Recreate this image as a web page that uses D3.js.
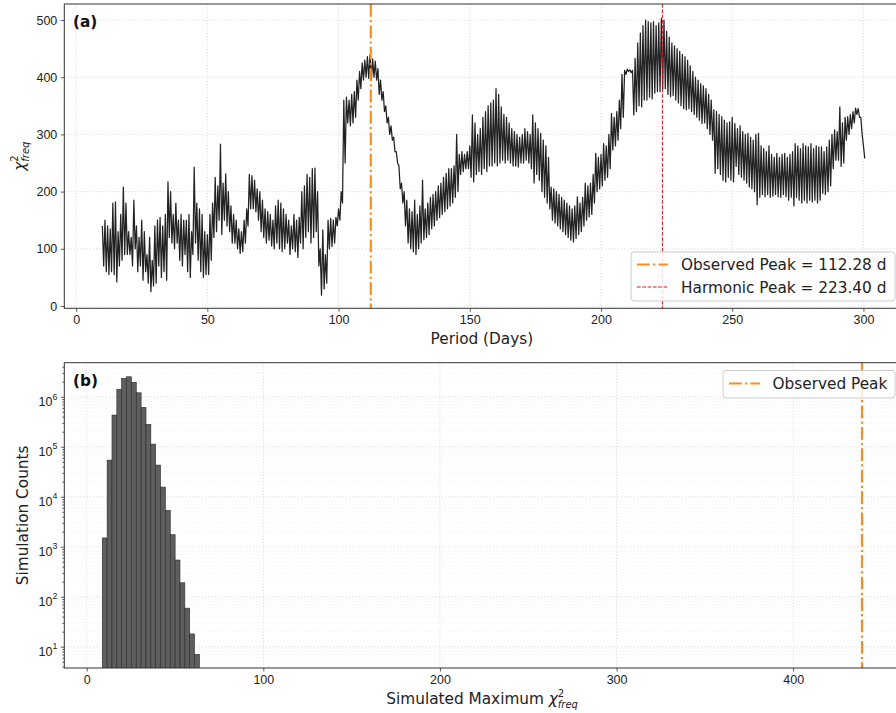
<!DOCTYPE html>
<html>
<head>
<meta charset="utf-8">
<title>Chi-square periodogram</title>
<script src="https://cdn.jsdelivr.net/npm/d3@7"></script>
<style>
  body { margin: 0; background: #fff; }
  svg { display: block; font-family: "DejaVu Sans", sans-serif; }
  .tick text { font-size: 12.5px; fill: #222; }
  .tick line { stroke: #333; stroke-width: 0.8; }
  .axis-label { font-size: 15.3px; fill: #222; }
  .grid line { stroke: #d4d4d4; stroke-width: 0.8; stroke-dasharray: 1.2,2; }
  .grid-minor line { stroke: #e4e4e4; stroke-width: 0.6; stroke-dasharray: 1,2; }
</style>
</head>
<body>
<div id="chart"></div>
<script>
// ---- panel (a): chi2 periodogram, upper / lower envelope read per day (10..300 d)
var chiHi = [
  140,150,140,135,180,182,130,160,208,180,
  130,120,185,140,120,150,130,90,120,80,
  140,150,155,140,160,217,200,160,180,150,
  160,150,150,160,130,243,180,170,160,130,
  125,160,180,225,210,283,215,231,200,175,
  160,150,135,130,150,170,230,228,220,205,
  200,185,170,165,160,150,175,185,180,170,
  160,150,140,160,150,155,200,210,230,225,
  240,241,200,100,133,90,150,153,150,155,
  170,200,360,365,360,370,375,395,410,425,
  430,436,439,432,428,415,395,375,350,330,
  315,295,270,245,215,200,185,170,165,185,
  160,175,220,170,180,190,195,200,210,215,
  225,232,240,240,245,300,265,270,265,270,
  280,334,320,300,310,330,340,350,355,360,
  380,370,348,335,330,320,310,305,300,295,
  300,310,305,300,334,320,310,302,290,280,
  260,208,205,200,195,190,185,180,175,170,
  175,191,180,190,215,210,215,230,267,260,
  265,284,280,300,337,330,340,360,405,412,
  414,413,412,433,460,477,490,500,497,495,
  497,490,495,503,500,480,470,460,455,450,
  445,440,436,430,420,410,400,395,389,385,
  380,370,360,343,340,335,331,325,320,322,
  330,319,310,315,305,300,302,295,290,300,
  302,280,275,270,280,265,260,267,260,265,
  267,260,265,270,284,280,275,284,280,278,
  284,275,280,278,278,270,278,290,300,308,
  305,348,320,330,331,335,340,346,345,330,280
];
var chiLo = [
  70,60,55,60,55,42,70,80,90,90,
  90,70,100,60,70,45,60,40,25,35,
  40,70,50,60,45,120,110,100,110,80,
  70,90,60,50,90,110,80,60,50,55,
  55,80,120,130,150,125,150,140,130,110,
  110,100,92,95,110,140,170,170,165,150,
  130,120,110,115,105,100,110,100,95,100,
  110,90,100,95,85,110,100,120,130,110,
  120,130,70,19,30,40,100,104,110,140,
  150,180,250,320,315,320,330,360,380,395,
  400,398,395,400,395,370,360,340,320,300,
  290,270,250,205,180,140,110,100,95,90,
  100,110,116,120,125,135,140,150,155,160,
  165,170,175,180,190,200,230,235,240,240,
  225,217,230,235,230,240,235,245,245,250,
  245,250,255,250,255,250,245,245,243,250,
  250,255,250,240,215,230,220,200,190,180,
  170,150,145,140,135,130,125,120,115,112,
  118,125,130,140,150,156,160,180,200,205,
  210,220,225,240,273,280,290,310,330,405,
  410,408,334,340,350,348,360,360,365,362,
  372,375,375,378,380,370,366,368,360,355,
  350,345,343,345,340,335,330,325,319,320,
  310,300,290,232,240,230,220,217,225,220,
  217,244,230,225,220,215,208,205,200,177,
  190,195,191,195,190,192,195,191,190,195,
  191,185,190,175,190,185,180,185,180,185,
  182,185,180,185,197,195,200,210,240,255,
  255,244,250,290,300,310,320,335,330,300,258
];
var periods = d3.range(10, 301);           // one entry per day
var observedPeak = 112.28;
var harmonicPeak = 223.40;
var periodTicks = [0, 50, 100, 150, 200, 250, 300];
var chiTicks = [0, 100, 200, 300, 400, 500];

// ---- panel (b): histogram of simulated maxima
var binEdges = [8.8, 11.55, 14.3, 17.05, 19.8, 22.55, 25.3, 28.05, 30.8, 33.55, 36.3,
                39.05, 41.8, 44.55, 47.3, 50.05, 52.8, 55.55, 58.3, 61.05, 63.8];
var binCounts = [1500, 54000, 430000, 1410000, 2330000, 2510000, 1940000, 1200000, 610000, 280000,
                 113000, 43000, 15600, 5350, 1740, 542, 190, 59, 18, 7];
var observedMaxChi = 439;
var simTicks = [0, 100, 200, 300, 400];
var countTicks = [1e1, 1e2, 1e3, 1e4, 1e5, 1e6];

var W = 896, H = 713;
var orange = "#ff8c1a";

var svg = d3.select("#chart").append("svg")
  .attr("width", W).attr("height", H);

var defs = svg.append("defs");

// ================= panel (a) =================
var A = {left: 64.3, right: 901.5, top: 4, bottom: 308.3};
var xa = d3.scaleLinear().domain([-4.5, 314.5]).range([A.left, A.right]);
var ya = d3.scaleLinear().domain([-4, 528]).range([A.bottom, A.top]);

defs.append("clipPath").attr("id", "clipA").append("rect")
  .attr("x", A.left).attr("y", A.top).attr("width", A.right - A.left).attr("height", A.bottom - A.top);

var ga = svg.append("g");

// grid
ga.append("g").attr("class", "grid").selectAll("line").data(periodTicks).enter().append("line")
  .attr("x1", d => xa(d)).attr("x2", d => xa(d)).attr("y1", A.top).attr("y2", A.bottom);
ga.append("g").attr("class", "grid").selectAll("line").data(chiTicks).enter().append("line")
  .attr("x1", A.left).attr("x2", A.right).attr("y1", d => ya(d)).attr("y2", d => ya(d));

// periodogram line: upper value at the day, lower half a day later
var pts = [];
periods.forEach(function(p, i) {
  pts.push([p, chiHi[i]]);
  pts.push([p + 0.5, chiLo[i]]);
});
ga.append("path").datum(pts)
  .attr("clip-path", "url(#clipA)")
  .attr("fill", "none").attr("stroke", "#222").attr("stroke-width", 1.25)
  .attr("stroke-linejoin", "round")
  .attr("d", d3.line().x(d => xa(d[0])).y(d => ya(d[1])));

// reference lines
ga.append("line")
  .attr("x1", xa(observedPeak)).attr("x2", xa(observedPeak)).attr("y1", A.top).attr("y2", A.bottom)
  .attr("stroke", orange).attr("stroke-width", 2.2).attr("stroke-dasharray", "12.8,3.2,2.2,3.2");
ga.append("line")
  .attr("x1", xa(harmonicPeak)).attr("x2", xa(harmonicPeak)).attr("y1", A.top).attr("y2", A.bottom)
  .attr("stroke", "#e8101a").attr("stroke-width", 1).attr("stroke-dasharray", "3.7,1.6");

// axes
ga.append("g").attr("transform", "translate(0," + A.bottom + ")")
  .call(d3.axisBottom(xa).tickValues(periodTicks).tickSize(3.5).tickPadding(3.5))
  .call(g => g.select(".domain").remove());
ga.append("g").attr("transform", "translate(" + A.left + ",0)")
  .call(d3.axisLeft(ya).tickValues(chiTicks).tickSize(3.5).tickPadding(3.5))
  .call(g => g.select(".domain").remove());

ga.append("rect").attr("x", A.left).attr("y", A.top)
  .attr("width", A.right - A.left).attr("height", A.bottom - A.top)
  .attr("fill", "none").attr("stroke", "#333").attr("stroke-width", 1);

ga.append("text").attr("x", 73).attr("y", 27).attr("font-weight", "bold")
  .attr("font-size", 15.3).attr("fill", "#111").text("(a)");

ga.append("text").attr("class", "axis-label").attr("text-anchor", "middle")
  .attr("x", (A.left + A.right) / 2 - 1).attr("y", 343.5).text("Period (Days)");

function chiLabel(sel) {
  sel.append("tspan").attr("font-style", "italic").text("\u03c7");
  sel.append("tspan").attr("font-size", 10).attr("dy", -7).text("2");
  sel.append("tspan").attr("font-size", 10).attr("font-style", "italic")
    .attr("dx", -6.4).attr("dy", 11).text("freq");
}
var yla = ga.append("text").attr("class", "axis-label").attr("text-anchor", "middle")
  .attr("transform", "translate(25," + ((A.top + A.bottom) / 2) + ") rotate(-90)");
chiLabel(yla);

// legend (a)
var la = ga.append("g");
la.append("rect").attr("x", 631).attr("y", 252).attr("width", 264).attr("height", 49)
  .attr("rx", 3).attr("fill", "#fff").attr("fill-opacity", 0.85).attr("stroke", "#ccc");
la.append("line").attr("x1", 637).attr("x2", 668).attr("y1", 264.5).attr("y2", 264.5)
  .attr("stroke", orange).attr("stroke-width", 2.2).attr("stroke-dasharray", "12.8,3.2,2.2,3.2");
la.append("text").attr("x", 681).attr("y", 270).attr("font-size", 15.3).attr("fill", "#222")
  .text("Observed Peak = " + observedPeak.toFixed(2) + " d");
la.append("line").attr("x1", 637).attr("x2", 668).attr("y1", 287).attr("y2", 287)
  .attr("stroke", "#e8101a").attr("stroke-width", 1).attr("stroke-dasharray", "3.7,1.6");
la.append("text").attr("x", 681).attr("y", 292.5).attr("font-size", 15.3).attr("fill", "#222")
  .text("Harmonic Peak = " + harmonicPeak.toFixed(2) + " d");

// ================= panel (b) =================
var B = {left: 64.3, right: 900, top: 362.7, bottom: 668};
var xb = d3.scaleLinear().domain([-12.7, 460.5]).range([B.left, B.right]);
var yb = d3.scaleLog().domain([3.75, 4.8e6]).range([B.bottom, B.top]);

defs.append("clipPath").attr("id", "clipB").append("rect")
  .attr("x", B.left).attr("y", B.top).attr("width", B.right - B.left).attr("height", B.bottom - B.top);

var gb = svg.append("g");

var minorCounts = [];
for (var e = 0; e <= 6; e++) {
  for (var m = 2; m <= 9; m++) {
    var v = m * Math.pow(10, e);
    if (v > yb.domain()[0] && v < yb.domain()[1]) minorCounts.push(v);
  }
}

gb.append("g").attr("class", "grid-minor").selectAll("line").data(minorCounts).enter().append("line")
  .attr("x1", B.left).attr("x2", B.right).attr("y1", d => yb(d)).attr("y2", d => yb(d));
gb.append("g").attr("class", "grid").selectAll("line").data(countTicks).enter().append("line")
  .attr("x1", B.left).attr("x2", B.right).attr("y1", d => yb(d)).attr("y2", d => yb(d));
gb.append("g").attr("class", "grid").selectAll("line").data(simTicks).enter().append("line")
  .attr("x1", d => xb(d)).attr("x2", d => xb(d)).attr("y1", B.top).attr("y2", B.bottom);

// histogram bars
gb.append("g").attr("clip-path", "url(#clipB)")
  .selectAll("rect").data(binCounts).enter().append("rect")
  .attr("x", (d, i) => xb(binEdges[i]))
  .attr("width", (d, i) => xb(binEdges[i + 1]) - xb(binEdges[i]))
  .attr("y", d => yb(d))
  .attr("height", d => B.bottom - yb(d) + 2)
  .attr("fill", "#5e5e5e").attr("stroke", "#2a2a2a").attr("stroke-width", 0.6);

gb.append("line")
  .attr("x1", xb(observedMaxChi)).attr("x2", xb(observedMaxChi)).attr("y1", B.top).attr("y2", B.bottom)
  .attr("stroke", orange).attr("stroke-width", 2.2).attr("stroke-dasharray", "12.8,3.2,2.2,3.2");

gb.append("g").attr("transform", "translate(0," + B.bottom + ")")
  .call(d3.axisBottom(xb).tickValues(simTicks).tickSize(3.5).tickPadding(3.5))
  .call(g => g.select(".domain").remove());
gb.append("g").attr("transform", "translate(" + B.left + ",0)")
  .call(d3.axisLeft(yb).tickValues(minorCounts).tickSize(2).tickFormat(""))
  .call(g => g.select(".domain").remove());
gb.append("g").attr("transform", "translate(" + B.left + ",0)")
  .call(d3.axisLeft(yb).tickValues(countTicks).tickSize(3.5).tickPadding(3.5))
  .call(g => g.select(".domain").remove())
  .call(g => g.selectAll(".tick text").each(function(d) {
    var t = d3.select(this).text(null).attr("dy", "0.7em");
    t.append("tspan").text("10");
    t.append("tspan").attr("font-size", 8.8).attr("dy", -6.5).text(Math.round(Math.log10(d)));
  }));

gb.append("rect").attr("x", B.left).attr("y", B.top)
  .attr("width", B.right - B.left).attr("height", B.bottom - B.top)
  .attr("fill", "none").attr("stroke", "#333").attr("stroke-width", 1);

gb.append("text").attr("x", 73).attr("y", 386).attr("font-weight", "bold")
  .attr("font-size", 15.3).attr("fill", "#111").text("(b)");

var xlb = gb.append("text").attr("class", "axis-label").attr("text-anchor", "middle")
  .attr("x", (B.left + B.right) / 2).attr("y", 704);
xlb.append("tspan").text("Simulated Maximum ");
chiLabel(xlb);

gb.append("text").attr("class", "axis-label").attr("text-anchor", "middle")
  .attr("transform", "translate(28," + ((B.top + B.bottom) / 2) + ") rotate(-90)")
  .text("Simulation Counts");

// legend (b)
var lb = gb.append("g");
lb.append("rect").attr("x", 723).attr("y", 370.5).attr("width", 172).attr("height", 27.5)
  .attr("rx", 3).attr("fill", "#fff").attr("fill-opacity", 0.85).attr("stroke", "#ccc");
lb.append("line").attr("x1", 729).attr("x2", 760).attr("y1", 383.5).attr("y2", 383.5)
  .attr("stroke", orange).attr("stroke-width", 2.2).attr("stroke-dasharray", "12.8,3.2,2.2,3.2");
lb.append("text").attr("x", 772.5).attr("y", 389).attr("font-size", 15.3).attr("fill", "#222")
  .text("Observed Peak");
</script>
</body>
</html>
